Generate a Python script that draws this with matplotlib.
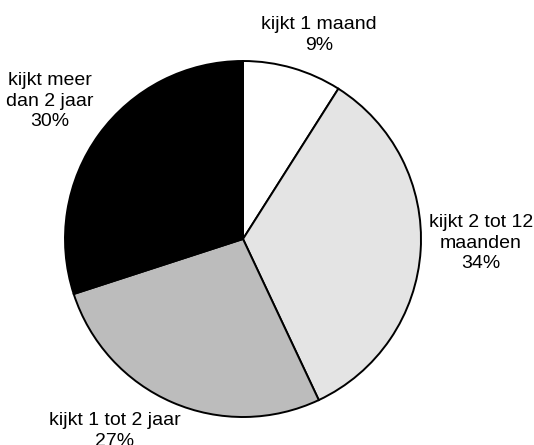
import matplotlib
matplotlib.use("Agg")
import matplotlib.pyplot as plt

categories = ["kijkt 1 maand", "kijkt 2 tot 12\nmaanden", "kijkt 1 tot 2 jaar", "kijkt meer\ndan 2 jaar"]
values = [9, 34, 27, 30]
colors = ["#ffffff", "#e4e4e4", "#bcbcbc", "#000000"]
# label centres in figure pixel coords (x from left, y from top)
label_pos = [(319, 35), (481, 243), (115, 431), (50, 101)]

W, H = 534, 445
fig = plt.figure(figsize=(W / 100, H / 100), dpi=100)
cx, cy, r = 243, 239, 178
ax = fig.add_axes([(cx - r) / W, (H - cy - r) / H, 2 * r / W, 2 * r / H])
ax.pie(values, colors=colors, startangle=90, counterclock=False,
       wedgeprops=dict(edgecolor="black", linewidth=1.4), radius=1)
ax.set_xlim(-1, 1)
ax.set_ylim(-1, 1)
ax.set_aspect("equal")
ax.axis("off")

for cat, v, (px, py) in zip(categories, values, label_pos):
    fig.text(px / W, 1 - py / H, f"{cat}\n{v}%", ha="center", va="center",
             fontsize=14, family=["Liberation Sans", "DejaVu Sans"],
             linespacing=1.28, color="black")

fig.savefig("out.png", dpi=100, facecolor="white")
